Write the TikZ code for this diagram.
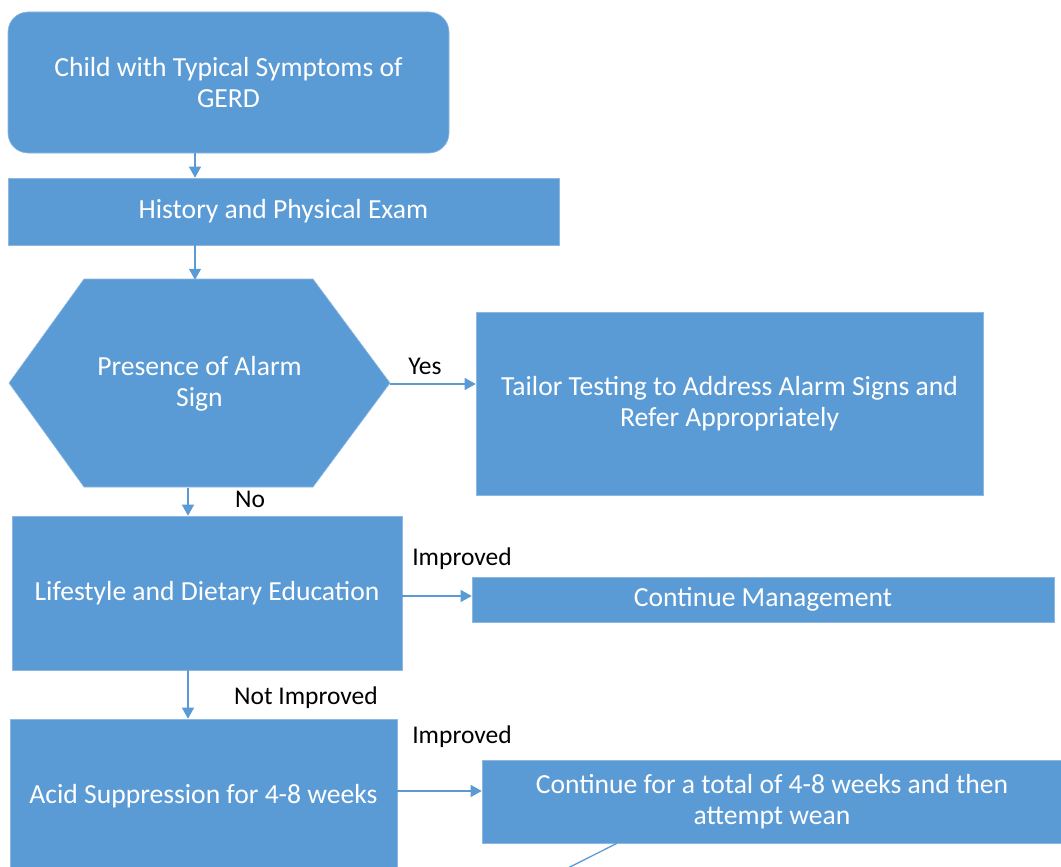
\documentclass[tikz,border=0pt]{standalone}
\usepackage{fontspec}
\setmainfont{Carlito}
\usetikzlibrary{arrows.meta}
\definecolor{boxblue}{HTML}{5B9BD5}
\definecolor{edgeblue}{HTML}{8DB8E2}
\begin{document}
\begin{tikzpicture}[x=1pt,y=-1pt,
  box/.style={fill=boxblue, draw=edgeblue, line width=0.6pt, text=white,
    font=\fontsize{27.6}{31}\selectfont, align=center, inner sep=0pt},
  conn/.style={draw=boxblue, line width=1.3pt, -{Triangle[length=11pt,width=12pt]}},
  plainline/.style={draw=boxblue, line width=1.3pt},
  lbl/.style={text=black, font=\fontsize{25.5}{29}\selectfont, inner sep=0pt}]
\useasboundingbox (0,0) rectangle (1061,867);
% nodes
\node[box, rounded corners=20pt, minimum width=441pt, minimum height=141pt] (start) at (228.5,82.5)
  {Child with Typical Symptoms of\\GERD};
\node[box, minimum width=551pt, minimum height=67pt] (hist) at (283.5,211.5)
  {History and Physical Exam};
\fill[boxblue, draw=edgeblue, line width=0.6pt] (9,383) -- (84,279) -- (313,279) -- (390,383) -- (313,487) -- (84,487) -- cycle;
\node[text=white, font=\fontsize{27.6}{31}\selectfont, align=center, inner sep=0pt,
  minimum width=381pt, minimum height=208pt] (alarm) at (199.5,384)
  {Presence of Alarm\\Sign};
\node[box, minimum width=507pt, minimum height=183pt] (tailor) at (729.5,403.5)
  {Tailor Testing to Address Alarm Signs and\\Refer Appropriately};
\node[box, minimum width=390pt, minimum height=154pt] (life) at (207,593)
  {Lifestyle and Dietary Education};
\node[box, minimum width=582pt, minimum height=45pt] (contman) at (763,599.5)
  {Continue Management};
\node[box, minimum width=387pt, minimum height=154pt] (acid) at (203.5,796)
  {Acid Suppression for 4-8 weeks};
\node[box, minimum width=580pt, minimum height=83pt] (contfor) at (772,801.5)
  {Continue for a total of 4-8 weeks and then\\attempt wean};
\coordinate (offpage) at (556,874);
% connectors
\draw[conn] (start.south -| 195,0) -- (hist.north -| 195,0);
\draw[conn] (hist.south -| 195,0) -- (alarm.north -| 195,0);
\draw[conn] (alarm.east) -- (alarm.east -| tailor.west);
\draw[conn] (alarm.south -| 188,0) -- (life.north -| 188,0);
\draw[conn] (life.east |- 0,596) -- (contman.west |- 0,596);
\draw[conn] (life.south -| 188,0) -- (acid.north -| 188,0);
\draw[conn] (acid.east |- 0,791) -- (contfor.west |- 0,791);
\draw[plainline] (contfor.south -| 617,0) -- (offpage);
% labels
\node[lbl] (lyes) at (425,366) {Yes};
\node[lbl] (lno) at (250,499) {No};
\node[lbl] (limp1) at (462,559) {Improved};
\node[lbl] (lnotimp) at (306,698) {Not Improved};
\node[lbl] (limp2) at (462,737) {Improved};
\end{tikzpicture}
\end{document}
